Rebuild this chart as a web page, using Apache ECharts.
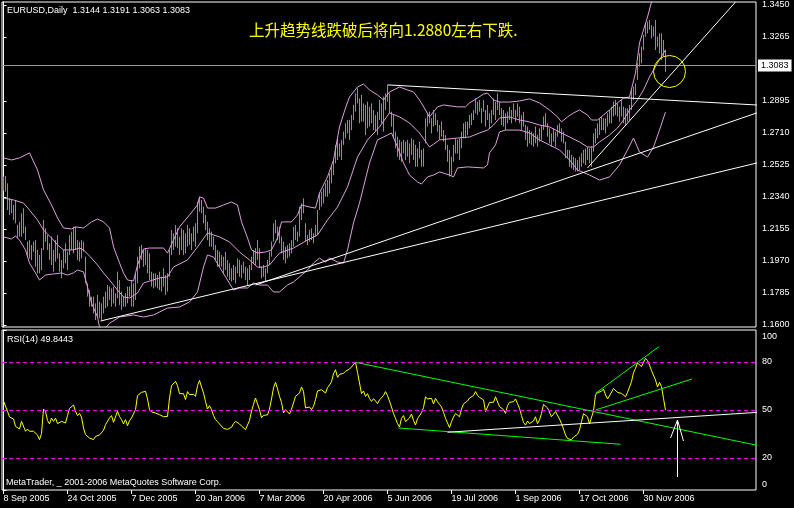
<!DOCTYPE html>
<html><head><meta charset="utf-8">
<script src="https://cdn.jsdelivr.net/npm/echarts@6/dist/echarts.min.js"></script>
<style>html,body{margin:0;padding:0;background:#000;}#c{width:794px;height:508px;}</style>
</head><body><div id="c"></div>
<script>
// ---------- DATA ----------
const ohlcTitle = 'EURUSD,Daily  1.3144 1.3191 1.3063 1.3083';
const noteText = '上升趋势线跌破后将向1.2880左右下跌.';
const rsiTitle = 'RSI(14) 49.8443';
const copyrightText = 'MetaTrader, _ 2001-2006 MetaQuotes Software Corp.';
const lastClose = 1.3083;

const barHigh = [
1.2458,1.2462,1.2419,1.2333,1.2323,1.2294,1.2323,1.2178,1.2197,1.2246,
1.2275,1.2169,1.2082,1.2091,1.2063,1.2082,1.2091,1.2034,1.2005,1.2044,
1.2207,1.2159,1.2120,1.2072,1.2111,1.2034,1.2091,1.2120,1.2014,1.1976,
1.2034,1.2072,1.2024,1.2120,1.2140,1.2169,1.2169,1.2091,1.2082,1.2091,
1.2082,1.1995,1.1841,1.1802,1.1764,1.1764,1.1725,1.1774,1.1735,1.1725,
1.1764,1.1793,1.1831,1.1822,1.1812,1.1822,1.1783,1.1908,1.1860,1.1793,
1.1764,1.1783,1.1822,1.1822,
1.1860,1.1841,1.1899,1.1995,1.2053,1.2063,1.2034,1.2044,1.2034,1.2014,
1.1908,1.1899,1.1899,1.1889,1.1908,1.1879,1.1928,1.1889,1.1899,1.2034,
1.2149,1.2130,1.2178,1.2159,1.2111,1.2159,1.2149,1.2130,1.2178,1.2159,
1.2130,1.2169,1.2188,1.2313,1.2342,1.2323,1.2284,1.2236,1.2197,1.2159,
1.2140,1.2111,1.2063,1.2034,1.2024,1.2005,1.1995,1.2024,1.1976,1.1957,
1.1928,1.1947,1.1937,1.1985,1.1976,1.1947,1.1966,1.1937,1.1928,1.1947,
1.1995,1.2034,1.2044,1.2091,1.2044,
1.1937,1.1947,1.1928,1.1976,1.2024,1.2082,1.2188,1.2207,1.2168,1.2168,
1.2111,1.2082,1.2053,1.2062,1.2072,1.2091,1.2168,1.2178,1.2140,1.2284,
1.2303,1.2332,1.2188,1.2120,1.2149,1.2159,1.2130,1.2178,1.2265,1.2361,
1.2371,1.2390,1.2419,1.2438,1.2477,1.2515,1.2554,1.2641,1.2679,1.2650,
1.2670,1.2718,1.2766,1.2785,1.2785,1.2814,1.2872,1.2939,1.2968,1.2910,
1.2930,1.2881,1.2872,1.2891,1.2862,1.2881,1.2843,1.2814,1.2833,1.2901,
1.2881,1.2920,1.2939,1.2987,1.2939,
1.2833,1.2814,1.2718,1.2689,1.2670,1.2660,1.2670,1.2660,1.2670,1.2650,
1.2679,1.2670,1.2641,1.2621,1.2660,1.2612,1.2621,1.2795,1.2824,1.2833,
1.2795,1.2843,1.2824,1.2785,1.2756,1.2776,1.2727,1.2698,1.2641,1.2612,
1.2573,1.2641,1.2679,1.2670,1.2679,1.2718,1.2766,1.2776,1.2776,1.2814,
1.2824,1.2843,1.2910,1.2891,1.2901,1.2853,1.2901,1.2843,1.2872,1.2824,
1.2843,1.2910,1.2891,1.2939,1.2891,1.2853,1.2843,1.2824,1.2833,1.2862,
1.2843,1.2881,1.2843,1.2881,1.2862,
1.2814,1.2833,1.2756,1.2747,1.2727,1.2718,1.2708,1.2747,1.2699,1.2737,
1.2756,1.2805,1.2824,1.2766,1.2737,1.2708,1.2737,1.2718,1.2756,1.2766,
1.2737,1.2718,1.2660,1.2612,1.2612,1.2583,1.2573,1.2564,1.2554,1.2573,
1.2593,1.2612,1.2621,1.2631,1.2621,1.2631,1.2708,1.2737,1.2766,1.2795,
1.2805,1.2795,1.2795,1.2824,1.2843,1.2862,1.2891,1.2901,1.2882,1.2862,
1.2901,1.2862,1.2853,1.2853,1.2872,1.2959,1.2978,1.2997,1.3113,1.3171,
1.3209,1.3277,1.3344,1.3354,1.3363,1.3334,1.3325,1.3363,1.3267,1.3286,
1.3286,1.3248,1.3191];

const barLow = [
1.2377,1.2371,1.2265,1.2236,1.2246,1.2207,1.2188,1.2101,1.2111,1.2111,
1.2130,1.2091,1.1995,1.1985,1.1976,1.2024,1.1937,1.1899,1.1899,1.1918,
1.2034,1.2082,1.2034,1.1976,1.1947,1.1908,1.1966,1.1985,1.1908,1.1870,
1.1928,1.1957,1.1918,1.2005,1.2034,1.2014,1.2034,1.1976,1.1966,1.1985,
1.2024,1.1841,1.1764,1.1706,1.1706,1.1667,1.1629,1.1648,1.1639,1.1629,
1.1667,1.1696,1.1706,1.1745,1.1706,1.1725,1.1706,1.1754,1.1716,1.1687,
1.1706,1.1706,1.1725,1.1764,
1.1706,1.1706,1.1745,1.1841,1.1928,1.1976,1.1937,1.1947,1.1899,1.1860,
1.1822,1.1812,1.1822,1.1812,1.1802,1.1793,1.1822,1.1774,1.1793,1.1879,
1.2005,1.2034,1.2053,1.2044,1.2005,1.2034,1.2005,1.2014,1.2053,1.2063,
1.2034,1.2082,1.2053,1.2130,1.2255,1.2246,1.2188,1.2149,1.2091,1.2053,
1.2053,1.2034,1.1976,1.1937,1.1937,1.1937,1.1899,1.1918,1.1879,1.1860,
1.1851,1.1860,1.1841,1.1899,1.1879,1.1870,1.1899,1.1860,1.1831,1.1860,
1.1918,1.1957,1.1947,1.1976,1.1928,
1.1870,1.1879,1.1851,1.1899,1.1947,1.1995,1.2082,1.2130,1.2091,1.2072,
1.2014,1.1976,1.1957,1.1985,1.1995,1.2014,1.2053,1.2091,1.2082,1.2111,
1.2207,1.2246,1.2082,1.2062,1.2082,1.2091,1.2072,1.2111,1.2120,1.2265,
1.2284,1.2303,1.2342,1.2342,1.2361,1.2419,1.2467,1.2535,1.2554,1.2573,
1.2554,1.2641,1.2679,1.2708,1.2670,1.2727,1.2785,1.2833,1.2881,1.2766,
1.2776,1.2776,1.2698,1.2737,1.2747,1.2766,1.2727,1.2718,1.2698,1.2785,
1.2766,1.2718,1.2843,1.2891,1.2824,
1.2747,1.2679,1.2621,1.2573,1.2554,1.2544,1.2592,1.2554,1.2573,1.2535,
1.2583,1.2554,1.2515,1.2515,1.2564,1.2515,1.2515,1.2650,1.2747,1.2766,
1.2708,1.2747,1.2756,1.2718,1.2670,1.2689,1.2660,1.2612,1.2544,1.2458,
1.2467,1.2544,1.2592,1.2592,1.2554,1.2621,1.2679,1.2679,1.2698,1.2737,
1.2756,1.2785,1.2824,1.2814,1.2833,1.2766,1.2833,1.2747,1.2785,1.2737,
1.2766,1.2814,1.2785,1.2843,1.2814,1.2756,1.2747,1.2727,1.2766,1.2785,
1.2766,1.2804,1.2776,1.2804,1.2766,
1.2727,1.2747,1.2670,1.2631,1.2650,1.2641,1.2631,1.2650,1.2631,1.2660,
1.2670,1.2727,1.2747,1.2689,1.2650,1.2631,1.2660,1.2631,1.2689,1.2708,
1.2660,1.2650,1.2564,1.2564,1.2515,1.2506,1.2496,1.2487,1.2487,1.2496,
1.2515,1.2535,1.2525,1.2554,1.2535,1.2515,1.2602,1.2650,1.2679,1.2699,
1.2727,1.2727,1.2708,1.2747,1.2766,1.2766,1.2805,1.2814,1.2805,1.2776,
1.2805,1.2766,1.2756,1.2776,1.2785,1.2843,1.2901,1.2930,1.3017,1.3094,
1.3113,1.3190,1.3267,1.3286,1.3306,1.3257,1.3267,1.3190,1.3209,1.3171,
1.3132,1.3151,1.3063];

const rsiValues = [
55.6,56.0,49.2,45.6,46.3,44.4,39.8,39.8,38.1,42.9,
44.0,36.7,38.1,36.7,37.3,36.7,37.7,34.4,31.5,35.2,
50.6,49.2,43.5,41.3,45.0,42.9,45.0,41.5,41.9,42.9,
44.0,41.9,46.5,51.0,51.0,53.1,49.2,46.5,47.9,45.6,
38.8,34.6,33.5,32.5,33.5,31.5,33.5,33.5,34.4,34.0,
37.3,40.8,39.8,45.0,46.5,42.3,42.9,49.2,46.0,44.0,
41.3,44.0,40.2,43.3,45.0,45.6,50.2,59.0,60.2,61.0,
60.6,61.7,56.9,50.2,48.8,47.7,48.1,48.8,47.1,46.9,
45.8,45.0,46.0,57.5,65.2,65.8,67.9,65.2,60.2,59.6,
60.2,56.5,61.5,59.6,60.2,59.8,58.5,65.2,68.5,64.4,
60.6,55.4,50.6,52.7,50.2,46.5,44.0,42.7,41.3,41.0,
38.5,38.8,37.9,38.5,39.2,41.5,42.9,43.5,41.3,40.0,
39.0,37.7,36.7,43.5,49.2,53.5,57.5,53.8,50.2,45.2,
46.7,45.6,46.9,50.6,56.9,63.8,67.3,63.3,58.5,54.8,
48.1,50.2,49.0,47.5,50.6,54.4,58.5,58.8,60.6,64.4,
61.7,51.3,51.9,51.9,50.2,52.3,56.5,61.9,63.1,62.7,
61.7,60.6,64.0,65.6,67.7,72.7,75.2,70.4,72.3,71.9,
72.9,74.2,73.5,75.6,76.9,78.1,80.0,73.5,66.9,60.2,
61.9,58.5,60.2,57.1,55.4,57.1,55.6,54.0,56.3,56.5,
59.0,61.5,59.0,55.6,51.9,47.7,44.8,41.5,39.4,
44.8,46.5,42.7,41.7,45.0,47.5,43.5,40.6,44.6,45.4,
48.3,51.5,58.3,56.9,56.3,57.3,53.8,57.3,55.2,53.5,
51.9,48.5,44.8,41.9,39.0,42.7,45.6,47.9,46.9,45.8,
50.6,53.8,53.1,55.6,57.5,57.9,59.0,61.5,59.2,57.9,
58.5,56.3,49.0,49.4,54.8,54.2,54.8,58.3,57.3,52.1,
51.7,50.2,47.9,52.7,54.8,54.0,55.2,56.9,54.0,51.0,
46.5,42.3,40.6,43.1,41.5,42.1,43.1,45.8,41.5,43.8,
47.9,53.5,53.1,51.3,50.2,45.8,45.4,49.0,48.5,44.4,
41.5,38.1,34.4,32.1,31.9,31.5,33.1,32.3,34.8,37.5,
42.7,47.7,48.5,45.8,41.3,42.3,49.4,59.4,60.8,61.5,
61.7,63.1,59.4,56.9,58.8,59.8,63.5,63.5,61.0,60.8,
60.4,60.2,58.3,61.0,61.9,67.7,73.3,76.0,79.4,79.8,
77.1,79.8,82.3,81.0,78.1,74.6,73.5,68.8,64.4,67.3,
64.6,57.3,49.8443];

// Bollinger bands: [bar index, price]
const bbUpper = [[0,1.2566],[4,1.2554],[8,1.2566],[13,1.2595],[17,1.2496],[20,1.2381],[24,1.2294],[27,1.2219],[30,1.2161],[34,1.2155],[36,1.2167],[40,1.2161],[41,1.2150],[44,1.2196],[47,1.2213],[50,1.2196],[53,1.2161],[55,1.2052],[58,1.1959],[60,1.1901],[62,1.1860],[65,1.1854],[67,1.1947],[70,1.2039],[73,1.2045],[80,1.2045],[82,1.2016],[85,1.2091],[88,1.2167],[93,1.2236],[97,1.2294],[98,1.2340],[100,1.2334],[102,1.2276],[106,1.2276],[110,1.2294],[114,1.2311],[117,1.2294],[119,1.2196],[122,1.2103],[124,1.2034],[127,1.2016],[131,1.2022],[134,1.2034],[137,1.2103],[139,1.2196],[144,1.2196],[147,1.2236],[149,1.2294],[153,1.2282],[156,1.2276],[158,1.2363],[162,1.2456],[165,1.2554],[168,1.2745],[171,1.2855],[173,1.2918],[177,1.2976],[180,1.2993],[183,1.2959],[187,1.2930],[190,1.2901],[193,1.2947],[198,1.2976],[202,1.2959],[205,1.2947],[208,1.2901],[211,1.2843],[213,1.2803],[217,1.2861],[220,1.2872],[227,1.2861],[231,1.2861],[233,1.2884],[237,1.2912],[240,1.2935],[242,1.2941],[245,1.2901],[248,1.2889],[253,1.2889],[258,1.2895],[263,1.2907],[268,1.2884],[273,1.2843],[277,1.2803],[279,1.2774],[282,1.2803],[285,1.2826],[288,1.2843],[292,1.2814],[294,1.2785],[297,1.2785],[300,1.2814],[303,1.2843],[307,1.2884],[310,1.2912],[313,1.2918],[316,1.3057],[318,1.3230],[322,1.3381],[324,1.3467],[327,1.3560],[331,1.3620]];
const bbMiddle = [[0,1.2334],[5,1.2323],[10,1.2305],[13,1.2265],[17,1.2207],[20,1.2149],[24,1.2103],[27,1.2063],[30,1.2034],[35,1.2034],[38,1.2045],[40,1.2034],[44,1.1987],[47,1.1947],[50,1.1901],[53,1.1860],[57,1.1802],[60,1.1762],[63,1.1756],[67,1.1785],[70,1.1843],[78,1.1872],[82,1.1878],[85,1.1935],[92,1.1976],[97,1.2051],[102,1.2132],[108,1.2109],[113,1.2080],[118,1.2022],[123,1.1976],[127,1.1935],[130,1.1935],[133,1.1947],[138,1.2016],[145,1.2045],[152,1.2091],[157,1.2120],[162,1.2207],[167,1.2282],[172,1.2398],[177,1.2571],[182,1.2670],[188,1.2745],[193,1.2826],[198,1.2803],[203,1.2768],[208,1.2710],[213,1.2629],[218,1.2670],[227,1.2681],[233,1.2687],[238,1.2710],[242,1.2727],[245,1.2756],[248,1.2797],[253,1.2803],[258,1.2785],[263,1.2774],[268,1.2756],[273,1.2745],[278,1.2716],[283,1.2687],[288,1.2658],[292,1.2629],[295,1.2629],[298,1.2658],[303,1.2698],[307,1.2739],[310,1.2785],[313,1.2843],[317,1.2901],[320,1.2959],[323,1.3034],[327,1.3115],[331,1.3190]];
const bbLower = [[0,1.2109],[4,1.2097],[6,1.2115],[8,1.2091],[11,1.2034],[13,1.1958],[16,1.1901],[18,1.1860],[21,1.1889],[25,1.1895],[29,1.1901],[32,1.1889],[35,1.1901],[37,1.1918],[40,1.1907],[42,1.1820],[44,1.1727],[47,1.1646],[48,1.1588],[50,1.1570],[53,1.1610],[58,1.1646],[65,1.1658],[70,1.1646],[75,1.1658],[82,1.1698],[88,1.1704],[93,1.1733],[97,1.1791],[100,1.1935],[102,1.2005],[105,1.1993],[108,1.1935],[112,1.1860],[115,1.1802],[118,1.1814],[122,1.1814],[125,1.1843],[128,1.1831],[132,1.1831],[135,1.1791],[138,1.1791],[142,1.1831],[145,1.1849],[148,1.1878],[152,1.1918],[155,1.1958],[158,1.1987],[161,1.1964],[163,1.1987],[167,1.1964],[170,1.1958],[172,1.2034],[175,1.2190],[178,1.2305],[183,1.2537],[187,1.2670],[192,1.2698],[194,1.2710],[197,1.2629],[200,1.2537],[203,1.2467],[207,1.2427],[209,1.2415],[212,1.2456],[215,1.2467],[218,1.2485],[223,1.2467],[225,1.2456],[227,1.2508],[232,1.2514],[240,1.2508],[242,1.2525],[243,1.2595],[246,1.2641],[248,1.2716],[251,1.2727],[258,1.2727],[263,1.2710],[268,1.2670],[273,1.2641],[278,1.2612],[283,1.2554],[287,1.2496],[293,1.2467],[298,1.2438],[303,1.2456],[308,1.2525],[312,1.2612],[315,1.2681],[318,1.2600],[322,1.2571],[325,1.2629],[328,1.2727],[331,1.2831]];

// drawn trendlines on the price window: [bar index, price]
const trendSupportLong = [[48.5,1.1623],[395.5,1.2589]];
const trendSupportMid = [[126,1.1831],[395.5,1.2901]];
const trendSupportSteep = [[292,1.2508],[366,1.3467]];
const trendResistance = [[192,1.2988],[395.5,1.2860]];
const circleMark = [[333,1.30655]];

// drawn lines on the RSI window: [bar index, RSI]
const rsiLineDown = [[176,79.8],[395.5,23.1]];
const rsiLineLow = [[197.5,38.75],[308.5,28.6]];
const rsiLineUpTop = [[296,60.4],[327.7,89.6]];
const rsiLineUpBottom = [[296,50],[344.3,69.4]];
const rsiLineWhite = [[222,36.1],[395.5,50]];
const arrowShaft = [[337,43.75],[337,8.1]];
const arrowHead = [[333.5,32.5],[337,43.75],[340,30.6]];

const dateTickBars = [0,32,64,96,128,160,192,224,256,288,320];
const dateTickLabels = ['8 Sep 2005','24 Oct 2005','7 Dec 2005','20 Jan 2006','7 Mar 2006','20 Apr 2006','5 Jun 2006','19 Jul 2006','1 Sep 2006','17 Oct 2006','30 Nov 2006'];
const priceTicks = [1.1600,1.1785,1.1970,1.2155,1.2340,1.2525,1.2710,1.2895,1.3265,1.3450];
const rsiTicks = [0,20,50,80,100];
const rsiLevels = [80,50,20];

// ---------- CHART ----------
const FONT = '"Liberation Sans", Arial, sans-serif';
const BAR_COLOR = '#32D22A';
const BAND_COLOR = '#DDA0DD';
const X_MIN = -0.75, X_MAX = 376.25;   // 2 px per bar over a 754 px wide plot
const chart = echarts.init(document.getElementById('c'), null, {renderer:'canvas', width:794, height:508});

function seg(data, color, xi, yi){
  return {type:'line', xAxisIndex:xi, yAxisIndex:yi, data:data, symbol:'none', showSymbol:false,
    clip:false, silent:true, z:5, lineStyle:{color:color, width:1}, itemStyle:{color:color}};
}
function band(data){
  return {type:'line', xAxisIndex:0, yAxisIndex:0, data:data, symbol:'none', showSymbol:false,
    clip:true, silent:true, z:3, lineStyle:{color:BAND_COLOR, width:1}, itemStyle:{color:BAND_COLOR}};
}

// high-low bars as vertical segments of one broken line
const barSegments = [];
barHigh.forEach(function(h, i){ barSegments.push([i, barLow[i]], [i, h], [i, '-']); });

const middleSeries = band(bbMiddle);
middleSeries.markLine = {
  silent:true, symbol:['none','none'], animation:false,
  data:[{yAxis:lastClose}],
  lineStyle:{color:'#999999', width:1, type:'solid'},
  label:{show:true, position:'end', distance:2, formatter:lastClose.toFixed(4),
    backgroundColor:'#ffffff', color:'#000000', padding:[2,3,1,3], fontFamily:FONT, fontSize:9}
};

const option = {
  backgroundColor:'#000000',
  animation:false,
  grid:[
    {left:2, top:2, width:754, height:325, show:true, borderColor:'#ffffff', borderWidth:1, backgroundColor:'transparent'},
    {left:2, top:330, width:754, height:160, show:true, borderColor:'#ffffff', borderWidth:1, backgroundColor:'transparent'}
  ],
  xAxis:[
    {type:'value', gridIndex:0, min:X_MIN, max:X_MAX, show:false},
    {type:'value', gridIndex:1, min:X_MIN, max:X_MAX,
      axisLine:{show:false}, splitLine:{show:false},
      axisTick:{show:true, customValues:dateTickBars, length:4, lineStyle:{color:'#ffffff'}},
      axisLabel:{show:true, customValues:dateTickBars, color:'#ffffff', fontFamily:FONT, fontSize:9, align:'left', margin:4,
        formatter:function(v){ const k = dateTickBars.indexOf(Math.round(v)); return k>=0 ? dateTickLabels[k] : ''; }}}
  ],
  yAxis:[
    {type:'value', gridIndex:0, position:'right', min:1.15884, max:1.34673, splitLine:{show:false},
      axisLine:{show:true, lineStyle:{color:'#ffffff'}},
      axisTick:{show:true, customValues:priceTicks, length:3, lineStyle:{color:'#ffffff'}},
      axisLabel:{show:true, customValues:priceTicks, color:'#ffffff', fontFamily:FONT, fontSize:9, margin:6,
        formatter:function(v){ return v.toFixed(4); }}},
    {type:'value', gridIndex:1, position:'right', min:0, max:100, splitLine:{show:false},
      axisLine:{show:true, lineStyle:{color:'#ffffff'}},
      axisTick:{show:true, customValues:rsiTicks, length:3, lineStyle:{color:'#ffffff'}},
      axisLabel:{show:true, customValues:rsiTicks, color:'#ffffff', fontFamily:FONT, fontSize:9, margin:6,
        formatter:function(v){ if (v===100) return '{t|100}'; if (v===0) return '{b|0}'; return String(v); },
        rich:{t:{padding:[14,0,0,0], color:'#ffffff', fontFamily:FONT, fontSize:9},
              b:{padding:[0,0,10,0], color:'#ffffff', fontFamily:FONT, fontSize:9}}}}
  ],
  series:[
    {type:'line', name:'EURUSD', xAxisIndex:0, yAxisIndex:0, z:2, silent:true, clip:true,
      symbol:'none', showSymbol:false, connectNulls:false, data:barSegments,
      lineStyle:{color:BAR_COLOR, width:1, cap:'butt'}, itemStyle:{color:BAR_COLOR}},
    band(bbUpper), middleSeries, band(bbLower),
    seg(trendSupportLong, '#ffffff', 0, 0),
    seg(trendSupportMid, '#ffffff', 0, 0),
    seg(trendSupportSteep, '#ffffff', 0, 0),
    seg(trendResistance, '#ffffff', 0, 0),
    {type:'custom', xAxisIndex:0, yAxisIndex:0, z:6, silent:true, clip:false, data:circleMark,
      itemStyle:{color:'#FFFF00'},
      encode:{x:0, y:1},
      renderItem:function(params, api){
        const c = api.coord([api.value(0), api.value(1)]);
        return {type:'circle', shape:{cx:c[0], cy:c[1], r:16}, style:{stroke:'#FFFF00', fill:'none', lineWidth:1}};
      }},
    {type:'line', xAxisIndex:1, yAxisIndex:1, z:4, silent:true, symbol:'none', showSymbol:false,
      data: rsiValues.map(function(v,i){ return [i, v]; }),
      lineStyle:{color:'#FFFF00', width:1}, itemStyle:{color:'#FFFF00'},
      markLine:{silent:true, symbol:['none','none'], animation:false,
        data: rsiLevels.map(function(l){ return {yAxis:l}; }),
        lineStyle:{color:'#FF00FF', width:1, type:[4,3]}, label:{show:false}}},
    seg(rsiLineDown, '#00FF00', 1, 1),
    seg(rsiLineLow, '#00FF00', 1, 1),
    seg(rsiLineUpTop, '#00FF00', 1, 1),
    seg(rsiLineUpBottom, '#00FF00', 1, 1),
    seg(rsiLineWhite, '#ffffff', 1, 1),
    seg(arrowShaft, '#ffffff', 1, 1),
    seg(arrowHead, '#ffffff', 1, 1)
  ],
  graphic:[
    {type:'text', x:7, y:10.5, z:10, silent:true, style:{text:ohlcTitle, fill:'#ffffff', font:'9px "Liberation Sans", Arial', verticalAlign:'middle', align:'left'}},
    {type:'text', x:249, y:30, z:10, silent:true, style:{text:noteText, fill:'#FFFF00', font:'15.5px "Noto Sans CJK SC"', verticalAlign:'middle', align:'left'}},
    {type:'text', x:7, y:340, z:10, silent:true, style:{text:rsiTitle, fill:'#ffffff', font:'9px "Liberation Sans", Arial', verticalAlign:'middle', align:'left'}},
    {type:'text', x:6, y:483, z:10, silent:true, style:{text:copyrightText, fill:'#ffffff', font:'9px "Liberation Sans", Arial', verticalAlign:'middle', align:'left'}}
  ]
};
chart.setOption(option);
</script>
</body></html>
